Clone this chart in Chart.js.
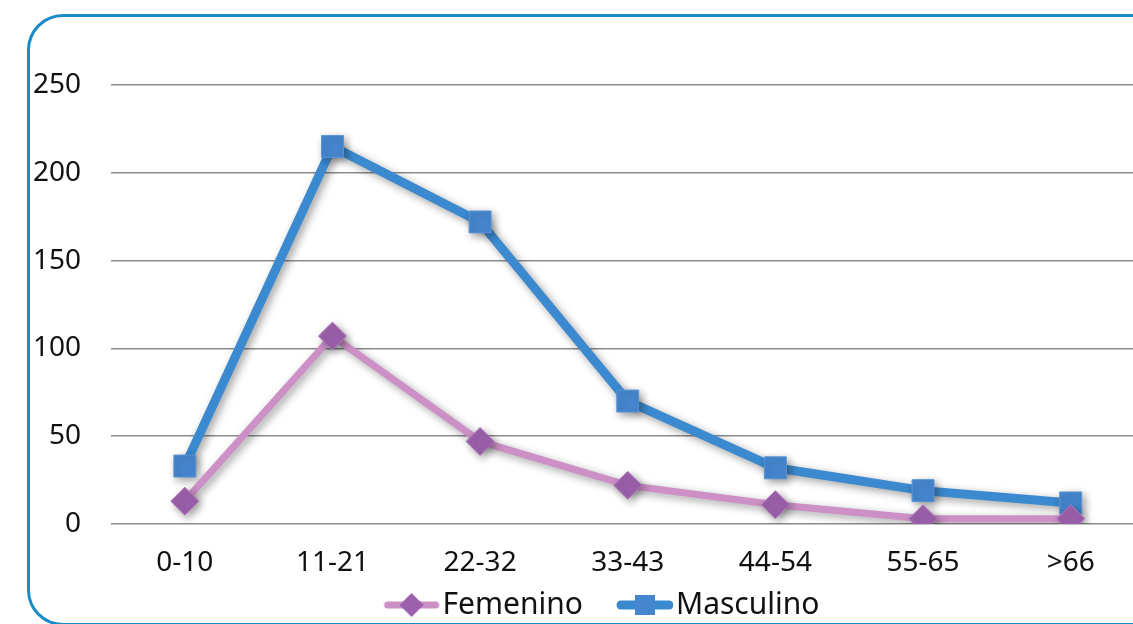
<!DOCTYPE html>
<html>
<head>
<meta charset="utf-8">
<script src="https://cdn.jsdelivr.net/npm/chart.js@4"></script>
<style>
  html, body { margin: 0; padding: 0; overflow: hidden; background: #fff; }
  #marco {
    position: absolute; left: 27px; top: 14px;
    width: 1200px; height: 606px;
    border: 3px solid #1a8bc8; border-radius: 36px;
  }
  #grafico { position: absolute; left: 0; top: 0; }
</style>
</head>
<body>
<div id="marco"></div>
<canvas id="grafico" width="1161" height="630"></canvas>
<script>
const categorias = ['0-10', '11-21', '22-32', '33-43', '44-54', '55-65', '>66'];
const femenino = [13, 107, 47, 22, 11, 3, 3];
const masculino = [33, 215, 172, 70, 32, 19, 12];
const marcasY = [0, 50, 100, 150, 200, 250];

const colorFem = '#cc8fc6';
const colorFemMarca = '#9b5fab';
const colorMasc = '#3b8ad0';
const colorMascMarca = '#4686cf';

// iconos de la leyenda: linea + marcador, pegados a la derecha del lienzo
const anchoCaja = 68;
function iconoLeyenda(color, grosor, marca, colorMarca) {
  const c = document.createElement('canvas');
  c.width = anchoCaja + 24; c.height = 30;
  const g = c.getContext('2d');
  const x0 = c.width - 56;
  const cy = 15;
  g.strokeStyle = color;
  g.lineWidth = grosor;
  g.lineCap = 'round';
  g.beginPath();
  g.moveTo(x0 + 4, cy); g.lineTo(x0 + 52, cy);
  g.stroke();
  g.fillStyle = colorMarca;
  g.beginPath();
  if (marca === 'rombo') {
    g.moveTo(x0 + 28, cy - 12); g.lineTo(x0 + 40, cy); g.lineTo(x0 + 28, cy + 12); g.lineTo(x0 + 16, cy);
  } else {
    g.rect(x0 + 18, cy - 10, 20, 20);
  }
  g.closePath();
  g.fill();
  return c;
}
const iconoFem = iconoLeyenda(colorFem, 7, 'rombo', colorFemMarca);
const iconoMasc = iconoLeyenda(colorMasc, 9, 'cuadro', colorMascMarca);

const sombra = {
  id: 'sombra',
  beforeDatasetsDraw(chart) {
    const ctx = chart.ctx;
    ctx.save();
    ctx.shadowColor = 'rgba(0,0,0,0.38)';
    ctx.shadowBlur = 8;
    ctx.shadowOffsetX = 3;
    ctx.shadowOffsetY = 3;
  },
  afterDatasetsDraw(chart) {
    chart.ctx.restore();
  }
};

const fuente = { family: '"Noto Sans", sans-serif', size: 28 };

new Chart(document.getElementById('grafico'), {
  type: 'line',
  data: {
    labels: categorias,
    datasets: [{
      label: 'Femenino',
      data: femenino,
      borderColor: colorFem,
      backgroundColor: colorFemMarca,
      borderWidth: 7,
      pointStyle: 'rectRot',
      pointRadius: 14,
      pointBorderWidth: 1,
      pointBorderColor: '#b07abc',
      pointBackgroundColor: colorFemMarca,
      tension: 0
    }, {
      label: 'Masculino',
      data: masculino,
      borderColor: colorMasc,
      backgroundColor: colorMascMarca,
      borderWidth: 9,
      pointStyle: 'rect',
      pointRadius: 15.5,
      pointBorderWidth: 1,
      pointBorderColor: '#5b95d6',
      pointBackgroundColor: colorMascMarca,
      tension: 0
    }]
  },
  options: {
    responsive: false,
    animation: false,
    layout: { padding: { top: 85, left: 24, right: 6, bottom: 0 } },
    plugins: {
      tooltip: { enabled: false },
      legend: {
        position: 'bottom',
        labels: {
          usePointStyle: true,
          pointStyleWidth: anchoCaja,
          padding: 10,
          color: '#111',
          font: { family: '"Noto Sans", sans-serif', size: 30 },
          generateLabels(chart) {
            const items = Chart.defaults.plugins.legend.labels.generateLabels(chart);
            items.forEach((it, i) => { it.pointStyle = i === 0 ? iconoFem : iconoMasc; });
            return items;
          }
        }
      }
    },
    scales: {
      x: {
        offset: true,
        grid: { display: false, drawTicks: false },
        border: { display: false },
        ticks: { color: '#111', font: fuente, padding: 22 },
        afterFit(scale) { scale.height = 56; }
      },
      y: {
        min: 0,
        max: 250,
        afterBuildTicks(scale) { scale.ticks = marcasY.map(v => ({ value: v })); },
        grid: { color: '#8c8c8c', lineWidth: 1.6, drawTicks: false },
        border: { display: false },
        ticks: { color: '#111', font: fuente, padding: 30 },
        afterFit(scale) { scale.width = 87; }
      }
    }
  },
  plugins: [sombra]
});
</script>
</body>
</html>
